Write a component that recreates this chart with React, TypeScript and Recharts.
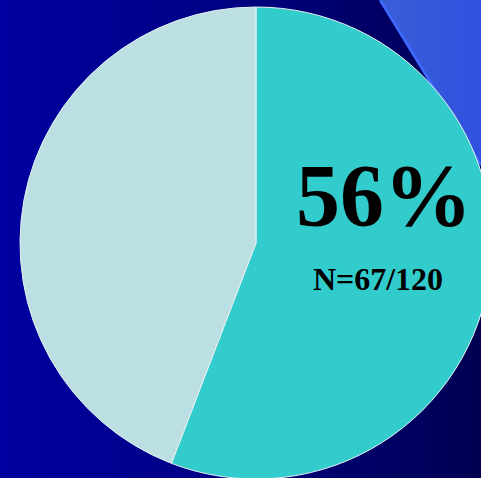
import { PieChart, Pie, Cell } from "recharts"

const SLICE_NAMES = ["Yes", "No"]
const SLICE_VALUES = [67, 53]
const SLICE_COLORS = ["#33cccc", "#bbdfe3"]
const HEADLINE = "56%"
const SUBTITLE = "N=67/120"

const data = SLICE_NAMES.map((name, i) => ({ name, value: SLICE_VALUES[i] }))

const W = 481
const H = 478

function renderLabel(props: any) {
  if (props.index !== 0) return null
  const { cx, cy } = props
  return (
    <g>
      <text
        x={cx + 128}
        y={cy - 18}
        textAnchor="middle"
        fontFamily="'Liberation Serif', 'Times New Roman', serif"
        fontWeight="bold"
        fontSize={88}
        fill="#000"
      >
        {HEADLINE}
      </text>
      <text
        x={cx + 122}
        y={cy + 47}
        textAnchor="middle"
        fontFamily="'Liberation Serif', 'Times New Roman', serif"
        fontWeight="bold"
        fontSize={32}
        fill="#000"
      >
        {SUBTITLE}
      </text>
    </g>
  )
}

export default function App() {
  return (
    <div
      style={{
        position: "absolute",
        left: 0,
        top: 0,
        width: W,
        height: H,
        overflow: "hidden",
        background: "linear-gradient(to right, #0000a0 0%, #000084 45%, #000052 100%)",
      }}
    >
      <svg width={W} height={H} style={{ position: "absolute", left: 0, top: 0 }}>
        <defs>
          <linearGradient id="tri" x1="0" y1="0" x2="1" y2="0">
            <stop offset="0%" stopColor="#3a5fd6" />
            <stop offset="100%" stopColor="#3050e0" />
          </linearGradient>
        </defs>
        <polygon points="380,0 481,0 481,165" fill="url(#tri)" />
        <line x1={380} y1={0} x2={481} y2={165} stroke="#3d6bff" strokeWidth={2.5} />
      </svg>
      <div style={{ position: "absolute", left: 0, top: 0 }}>
        <PieChart width={W} height={H} margin={{ top: 0, right: 0, bottom: 0, left: 0 }}>
          <Pie
            data={data}
            dataKey="value"
            nameKey="name"
            cx={256}
            cy={243}
            outerRadius={236}
            startAngle={90}
            endAngle={-270}
            stroke="#e6f2f4"
            strokeWidth={1}
            label={renderLabel}
            labelLine={false}
            isAnimationActive={false}
          >
            {data.map((d, i) => (
              <Cell key={d.name} fill={SLICE_COLORS[i]} />
            ))}
          </Pie>
        </PieChart>
      </div>
    </div>
  )
}
